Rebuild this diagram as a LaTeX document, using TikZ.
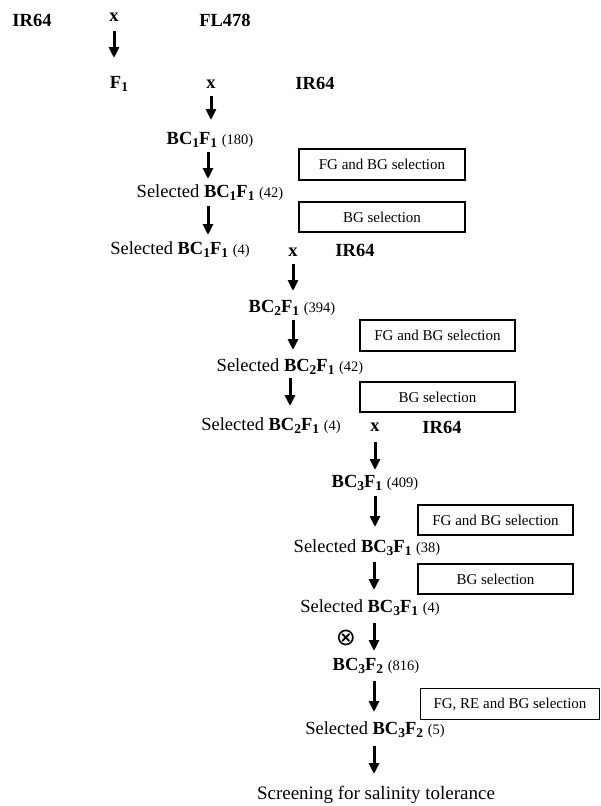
\documentclass[tikz,border=0pt]{standalone}
\usepackage{fontspec}
\setmainfont{Liberation Serif}
\newfontfamily\symfont{DejaVu Sans}
\usetikzlibrary{arrows.meta}
\newcommand{\sbn}[1]{\raisebox{-0.32ex}{\fontsize{13.5}{14}\selectfont #1}}
\newcommand{\bcf}[2]{{\bfseries BC\sbn{#1}F\sbn{#2}}}
\newcommand{\cnt}[1]{{\fontsize{14.5}{16}\selectfont (#1)}}
\begin{document}
\begin{tikzpicture}[x=1pt,y=-1pt,
  lbl/.style={inner sep=0pt, font=\fontsize{18.5}{22}\selectfont},
  bl/.style={inner sep=0pt, font=\fontsize{18.5}{22}\selectfont\bfseries},
  selbox/.style={draw, line width=1.3pt, inner sep=0pt, font=\fontsize{15}{18}\selectfont},
  arr/.style={line width=3pt, -{Triangle[width=10pt,length=11pt]}}]
\useasboundingbox (0,0) rectangle (601,806);
\fill[white] (0,0) rectangle (601,806);
% first cross
\node[bl] (p1) at (32,20) {IR64};
\node[bl] (xa) at (114,17) {x};
\node[bl] (p2) at (225,20) {FL478};
\coordinate (a1s) at (114,31); \coordinate (a1e) at (114,58);
\draw[arr] (a1s) -- (a1e);
\node[bl] (f1) at (119,84) {F\sbn{1}};
\node[bl] (xb) at (211,84) {x};
\node[bl] (p3) at (315,83) {IR64};
\coordinate (a2s) at (211,96); \coordinate (a2e) at (211,120);
\draw[arr] (a2s) -- (a2e);
% BC1
\node[lbl] (bc1) at (210,140) {\bcf{1}{1} \cnt{180}};
\coordinate (a3s) at (208,152); \coordinate (a3e) at (208,179);
\draw[arr] (a3s) -- (a3e);
\node[selbox, minimum width=166pt, minimum height=31pt] (b1) at (382,164.5) {FG and BG selection};
\node[lbl] (s1a) at (210,193) {Selected \bcf{1}{1} \cnt{42}};
\coordinate (a4s) at (208,206); \coordinate (a4e) at (208,235);
\draw[arr] (a4s) -- (a4e);
\node[selbox, minimum width=166pt, minimum height=30pt] (b2) at (382,217) {BG selection};
\node[lbl] (s1b) at (180,250) {Selected \bcf{1}{1} \cnt{4}};
\node[bl] (xc) at (293,252) {x};
\node[bl] (p4) at (355,250) {IR64};
\coordinate (a5s) at (293,264); \coordinate (a5e) at (293,291);
\draw[arr] (a5s) -- (a5e);
% BC2
\node[lbl] (bc2) at (292,308) {\bcf{2}{1} \cnt{394}};
\coordinate (a6s) at (293,320); \coordinate (a6e) at (293,350);
\draw[arr] (a6s) -- (a6e);
\node[selbox, minimum width=155pt, minimum height=31pt] (b3) at (437.5,335.5) {FG and BG selection};
\node[lbl] (s2a) at (290,367) {Selected \bcf{2}{1} \cnt{42}};
\coordinate (a7s) at (290,378); \coordinate (a7e) at (290,406);
\draw[arr] (a7s) -- (a7e);
\node[selbox, minimum width=155pt, minimum height=30pt] (b4) at (437.5,397) {BG selection};
\node[lbl] (s2b) at (271,426) {Selected \bcf{2}{1} \cnt{4}};
\node[bl] (xd) at (375,427) {x};
\node[bl] (p5) at (442,427) {IR64};
\coordinate (a8s) at (375,442); \coordinate (a8e) at (375,470);
\draw[arr] (a8s) -- (a8e);
% BC3
\node[lbl] (bc3) at (375,483) {\bcf{3}{1} \cnt{409}};
\coordinate (a9s) at (375,496); \coordinate (a9e) at (375,527);
\draw[arr] (a9s) -- (a9e);
\node[selbox, minimum width=155pt, minimum height=30pt] (b5) at (495.5,520) {FG and BG selection};
\node[lbl] (s3a) at (367,548) {Selected \bcf{3}{1} \cnt{38}};
\coordinate (a10s) at (374,562); \coordinate (a10e) at (374,590);
\draw[arr] (a10s) -- (a10e);
\node[selbox, minimum width=155pt, minimum height=30pt] (b6) at (495.5,579) {BG selection};
\node[lbl] (s3b) at (370,608) {Selected \bcf{3}{1} \cnt{4}};
\node[inner sep=0pt, font=\symfont\fontsize{24}{26}\selectfont] (self) at (346,638) {⊗};
\coordinate (a11s) at (374,623); \coordinate (a11e) at (374,651);
\draw[arr] (a11s) -- (a11e);
\node[lbl] (bc3f2) at (376,666) {\bcf{3}{2} \cnt{816}};
\coordinate (a12s) at (374,681); \coordinate (a12e) at (374,712);
\draw[arr] (a12s) -- (a12e);
\node[selbox, minimum width=179pt, minimum height=31pt] (b7) at (510,704) {FG, RE and BG selection};
\node[lbl] (s3c) at (375,730) {Selected \bcf{3}{2} \cnt{5}};
\coordinate (a13s) at (374,746); \coordinate (a13e) at (374,774);
\draw[arr] (a13s) -- (a13e);
\node[inner sep=0pt, font=\fontsize{19}{22}\selectfont] (scr) at (376,795) {Screening for salinity tolerance};
\end{tikzpicture}
\end{document}
